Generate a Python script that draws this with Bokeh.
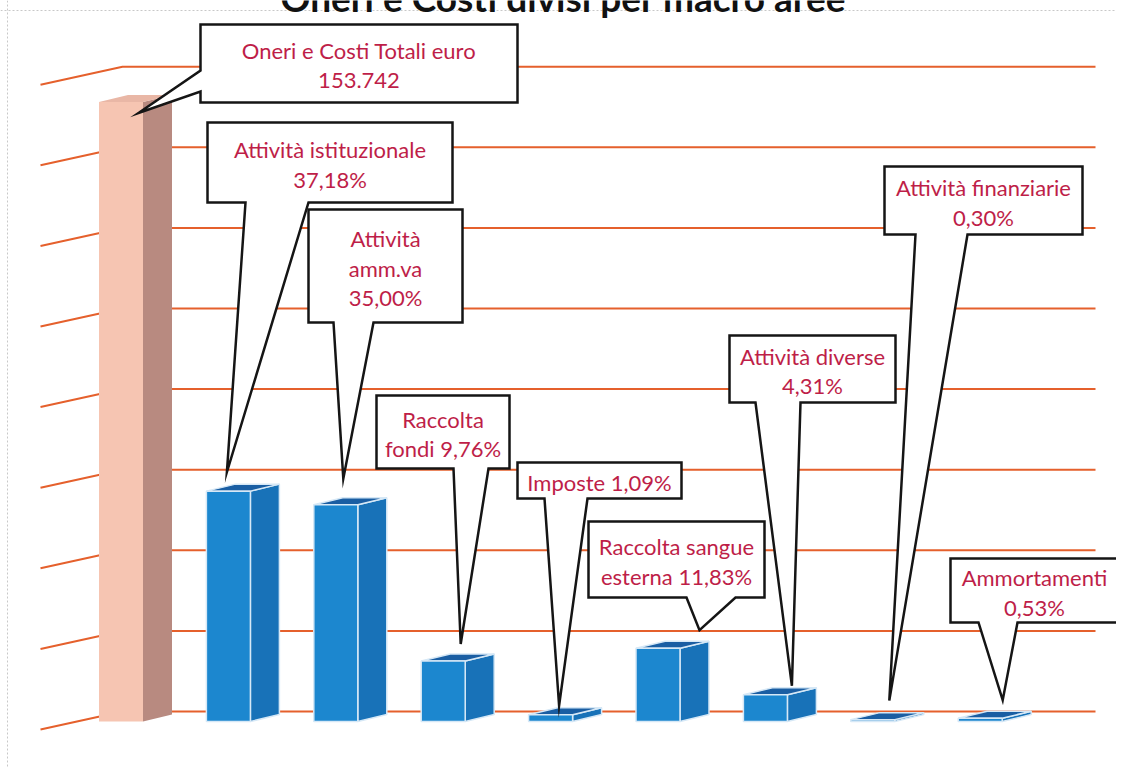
from bokeh.plotting import figure
from bokeh.models import Range1d, Label, Span
from bokeh.core.properties import value
from bokeh.embed import file_html
from bokeh.resources import INLINE

# ---------------- data ----------------
title = "Oneri e Costi divisi per macro aree"
total = 153742
categories = ["Oneri e Costi Totali", "Attività istituzionale", "Attività amm.va",
              "Raccolta fondi", "Imposte", "Raccolta sangue esterna",
              "Attività diverse", "Attività finanziarie", "Ammortamenti"]
shares = [100.0, 37.18, 35.00, 9.76, 1.09, 11.83, 4.31, 0.30, 0.53]
callout_texts = ["Oneri e Costi Totali euro\n153.742",
                 "Attività istituzionale\n37,18%",
                 "Attività\namm.va\n35,00%",
                 "Raccolta\nfondi 9,76%",
                 "Imposte 1,09%",
                 "Raccolta sangue\nesterna 11,83%",
                 "Attività diverse\n4,31%",
                 "Attività finanziarie\n0,30%",
                 "Ammortamenti\n0,53%"]
grid_ticks = [0, 20000, 40000, 60000, 80000, 100000, 120000, 140000, 160000]

values = [total * s / 100.0 for s in shares]

# ---------------- layout constants (pixels) ----------------
W, H = 1116, 767
CAT_PX = 107.4      # px per category step
X_ORIGIN = 120.5    # canvas px of category 0 center
VAL_PX = 0.00403    # px per euro
Y_BASE = 721        # canvas px of value 0 (front plane)

def dxu(px):
    return px / CAT_PX

def dyu(px):
    return px / VAL_PX

def pgx(px):
    return (px - X_ORIGIN) / CAT_PX

def pgy(py):
    return (Y_BASE - py) / VAL_PX

p = figure(width=W, height=H, output_backend="svg", toolbar_location=None,
           x_range=Range1d(-X_ORIGIN / CAT_PX, (W - X_ORIGIN) / CAT_PX),
           y_range=Range1d((Y_BASE - H) / VAL_PX, Y_BASE / VAL_PX),
           x_axis_location=None, y_axis_location=None, min_border=0)
p.grid.visible = False
p.outline_line_color = None
p.background_fill_color = "white"
p.border_fill_color = "white"

# faint dotted chart border
p.add_layout(Span(location=pgy(10), dimension="width", line_color="#C8C8C8",
                  line_dash="2 2", line_width=1))
p.add_layout(Span(location=pgx(7), dimension="height", line_color="#C8C8C8",
                  line_dash="2 2", line_width=1))

# ---------------- gridlines (3D wall) ----------------
WALL_DY = dyu(10)
LEFT_DROP = dyu(18)
x_front_left = pgx(40)
x_corner = pgx(122)
x_right = pgx(1095)
gxs, gys = [], []
for t in grid_ticks:
    yb = t + WALL_DY
    gxs.append([x_front_left, x_corner, x_right])
    gys.append([yb - LEFT_DROP, yb, yb])
p.multi_line(gxs, gys, line_color="#E5602C", line_width=2)

# ---------------- 3D bars ----------------
BW = dxu(44)
DDX = dxu(29)
DDY = dyu(7)
for i, v in enumerate(values):
    if i == 0:
        front, side, top, edge = "#F6C5B2", "#B88A80", "#E9B7A6", None
    else:
        front, side, top, edge = "#1C87CF", "#1872B8", "#1A5EA3", "#D6E8F6"
    l, r = i - BW / 2, i + BW / 2
    p.patch([r, r + DDX, r + DDX, r], [0, DDY, v + DDY, v],
            fill_color=side, line_color=edge, line_width=1.5)
    p.patch([l, r, r + DDX, l + DDX], [v, v, v + DDY, v + DDY],
            fill_color=top, line_color=edge, line_width=1.5)
    p.quad(left=l, right=r, bottom=0, top=v,
           fill_color=front, line_color=edge, line_width=1.5)

# ---------------- callouts ----------------
# box (L, T, R, B) in px, pointer base, side, tip offset (dx px, gap px above bar top)
boxes = [(200, 24, 517, 102), (207, 122, 452, 202), (308, 209, 462, 322),
         (376, 395, 509, 468), (517, 462, 681, 498), (588, 521, 764, 597),
         (729, 335, 895, 402), (884, 166, 1082, 234), (950, 558, 1118, 622)]
bases = [(70, 91), (245, 308), (333, 373), (453, 488), (544, 587),
         (686, 735), (755, 800), (915, 967), (978, 1017)]
sides = ["left"] + ["bottom"] * 8
tip_off = [(17.5, -11), (-1.5, 19), (7.5, 26), (17.5, 17), (8.5, 9),
           (41.5, 18), (26.5, 9), (16.5, 19), (22.5, 18)]

TEXT_COLOR = "#BE1E48"
for i, (box, base, side, toff, txt) in enumerate(zip(boxes, bases, sides, tip_off, callout_texts)):
    L, T, R, B = pgx(box[0]), pgy(box[1]), pgx(box[2]), pgy(box[3])
    tx = i + dxu(toff[0])
    ty = values[i] + dyu(toff[1])
    if side == "left":
        b1, b2 = pgy(base[0]), pgy(base[1])
        xs = [L, R, R, L, L, tx, L]
        ys = [T, T, B, B, b2, ty, b1]
    else:
        b1, b2 = pgx(base[0]), pgx(base[1])
        xs = [L, R, R, b2, tx, b1, L]
        ys = [T, T, B, B, ty, B, B]
    p.patch(xs, ys, fill_color="white", line_color="#151515", line_width=2.5,
            line_join="miter")
    lines = txt.split("\n")
    n = len(lines)
    cx = (box[0] + box[2]) / 2
    cy = (box[1] + box[3]) / 2 + 2
    spacing = 29.5
    lx = [pgx(cx)] * n
    ly = [pgy(cy + (k - (n - 1) / 2) * spacing) for k in range(n)]
    p.text(lx, ly, text=lines, text_align="center", text_baseline="middle",
           text_font=value("Lato"), text_font_size="22px", text_color=TEXT_COLOR)

# title (cut off at the top edge as in the scanned original)
p.add_layout(Label(x=pgx(563), y=pgy(-3), text=title, text_align="center",
                   text_baseline="middle", text_font="Lato",
                   text_font_style="bold", text_font_size="37px",
                   text_color="#111111"))

open("out.html", "w").write(file_html(p, INLINE))
